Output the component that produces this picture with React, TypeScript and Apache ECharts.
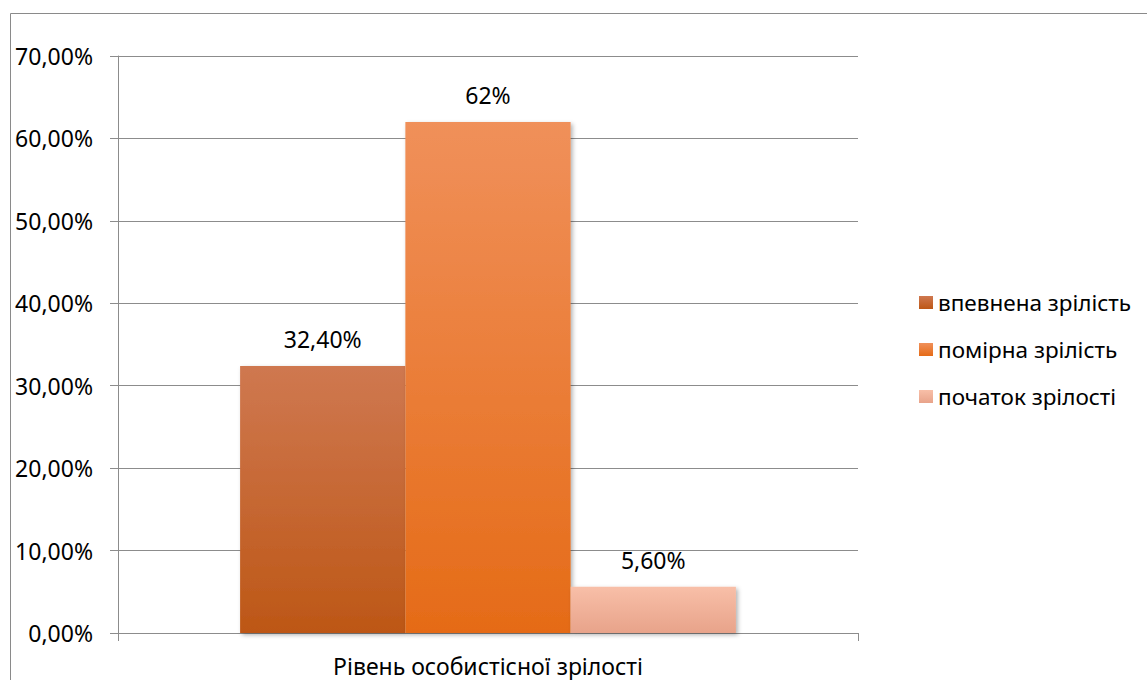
import React, { useEffect, useRef } from "react";
import * as echarts from "echarts";

const categories = ["Рівень особистісної зрілості"];
const seriesNames = ["впевнена зрілість", "помірна зрілість", "початок зрілості"];
const seriesValues = [32.4, 62, 5.6];
const valueLabels = ["32,40%", "62%", "5,60%"];
const yTickLabels = ["0,00%", "10,00%", "20,00%", "30,00%", "40,00%", "50,00%", "60,00%", "70,00%"];
const gradients: [string, string][] = [
  ["#CF7850", "#BD5716"],
  ["#F0905A", "#E56B17"],
  ["#F8BFA8", "#E8A38A"],
];

const FONT = "Noto Sans";

export default function App() {
  const ref = useRef<HTMLDivElement>(null);
  useEffect(() => {
    if (!ref.current) return;
    const chart = echarts.init(ref.current, undefined, { renderer: "svg" });
    const series = seriesNames.map((name, i) => ({
      name,
      type: "bar" as const,
      data: [seriesValues[i]],
      barGap: "0%",
      barCategoryGap: "33%",
      itemStyle: {
        color: new echarts.graphic.LinearGradient(0, 0, 0, 1, [
          { offset: 0, color: gradients[i][0] },
          { offset: 1, color: gradients[i][1] },
        ]),
        shadowBlur: 4,
        shadowColor: "rgba(0,0,0,0.3)",
        shadowOffsetX: 2,
        shadowOffsetY: 2,
      },
      label: {
        show: true,
        position: "top" as const,
        distance: 15,
        formatter: () => valueLabels[i],
        color: "#000",
        fontFamily: FONT,
        fontSize: 23,
      },
    }));
    chart.setOption({
      animation: false,
      backgroundColor: "#fff",
      graphic: [
        {
          type: "rect",
          shape: { x: 10.5, y: 13.5, width: 1200, height: 700 },
          style: { fill: "none", stroke: "#8a8a8a", lineWidth: 1 },
          silent: true,
        },
      ],
      grid: { left: 118, right: 289, top: 56, bottom: 47, containLabel: false },
      legend: {
        orient: "vertical",
        left: 914,
        top: 286,
        itemWidth: 14,
        itemHeight: 13,
        itemGap: 24,
        icon: "rect",
        data: seriesNames,
        textStyle: { color: "#000", fontFamily: FONT, fontSize: 22.5 },
      },
      xAxis: {
        type: "category",
        data: categories,
        axisLine: { show: true, lineStyle: { color: "#8c8c8c", width: 1 } },
        axisTick: { show: true, length: 8, lineStyle: { color: "#8c8c8c" } },
        axisLabel: { color: "#000", fontFamily: FONT, fontSize: 23, margin: 21 },
      },
      yAxis: {
        type: "value",
        min: 0,
        max: 70,
        interval: 10,
        axisLine: { show: true, lineStyle: { color: "#8c8c8c", width: 1 } },
        axisTick: { show: true, length: 8, lineStyle: { color: "#8c8c8c" } },
        splitLine: { show: true, lineStyle: { color: "#8c8c8c", width: 1 } },
        axisLabel: {
          color: "#000",
          fontFamily: FONT,
          fontSize: 23,
          margin: 25,
          formatter: (v: number) => yTickLabels[Math.round(v / 10)] ?? "",
        },
      },
      series,
    });
    return () => chart.dispose();
  }, []);
  return (
    <div
      ref={ref}
      style={{ position: "absolute", left: 0, top: 0, width: 1147, height: 680 }}
    />
  );
}
